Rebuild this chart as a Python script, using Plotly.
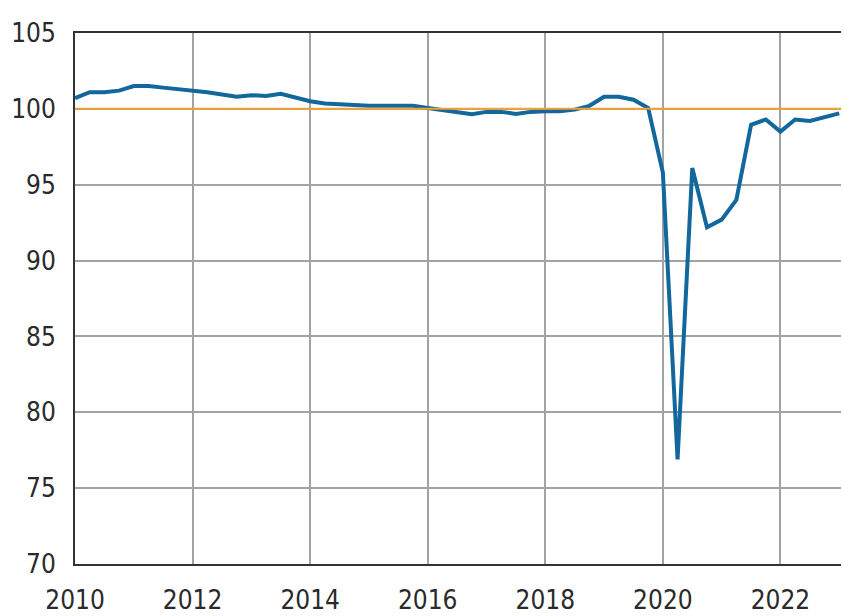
import plotly.graph_objects as go

# Quarterly dates (decimal years) and index values
years = [2010 + i * 0.25 for i in range(53)]
values = [
    100.7, 101.1, 101.1, 101.2,   # 2010
    101.5, 101.5, 101.4, 101.3,   # 2011
    101.25, 101.1, 100.95, 100.8, # 2012
    100.9, 100.85, 101.0, 100.75, # 2013
    100.5, 100.35, 100.3, 100.2,  # 2014
    100.2, 100.2, 100.2, 100.2,   # 2015
    100.05, 99.9, 99.8, 99.65,    # 2016
    99.8, 99.8, 99.67, 99.8,      # 2017
    99.85, 99.85, 99.95, 100.2,   # 2018
    100.8, 100.8, 100.6, 100.05,  # 2019
    95.8, 76.9, 96.1, 92.2,       # 2020
    92.7, 94.0, 98.95, 99.3,      # 2021
    98.5, 99.3, 99.2, 99.45,      # 2022
    99.7,                         # 2023
]
reference_level = 100
x_ticks = [2010, 2012, 2014, 2016, 2018, 2020, 2022]
y_ticks = [70, 75, 80, 85, 90, 95, 100, 105]

font_family = "DejaVu Sans Condensed, Liberation Sans Narrow, sans-serif"

fig = go.Figure()
fig.add_trace(go.Scatter(
    x=years, y=values, mode="lines",
    line=dict(color="#12679c", width=4),
    showlegend=False, hoverinfo="skip",
))
fig.add_hline(y=reference_level, line=dict(color="#f5a030", width=2), layer="above")

fig.update_layout(
    width=843, height=616,
    margin=dict(l=75, r=2, t=33, b=52),
    paper_bgcolor="white", plot_bgcolor="white",
    font=dict(family=font_family, size=26, color="#2a2a2a"),
)
fig.update_xaxes(
    range=[2010, 2023.03],
    tickvals=x_ticks, ticktext=[str(v) for v in x_ticks],
    showgrid=True, gridcolor="#a3a3a3", gridwidth=2,
    showline=True, linecolor="#333333", linewidth=2, mirror=True,
    ticks="", ticklabelstandoff=12, automargin=False,
    zeroline=False,
)
fig.update_yaxes(
    range=[70, 105],
    tickvals=y_ticks, ticktext=[str(v) for v in y_ticks],
    showgrid=True, gridcolor="#a3a3a3", gridwidth=2,
    showline=True, linecolor="#333333", linewidth=2,
    ticks="", ticklabelstandoff=12, automargin=False,
    zeroline=False,
)

fig.write_html(
    "out.html",
    config={"displayModeBar": False},
    post_script="document.body.style.margin='0';document.body.style.overflow='hidden';",
)
